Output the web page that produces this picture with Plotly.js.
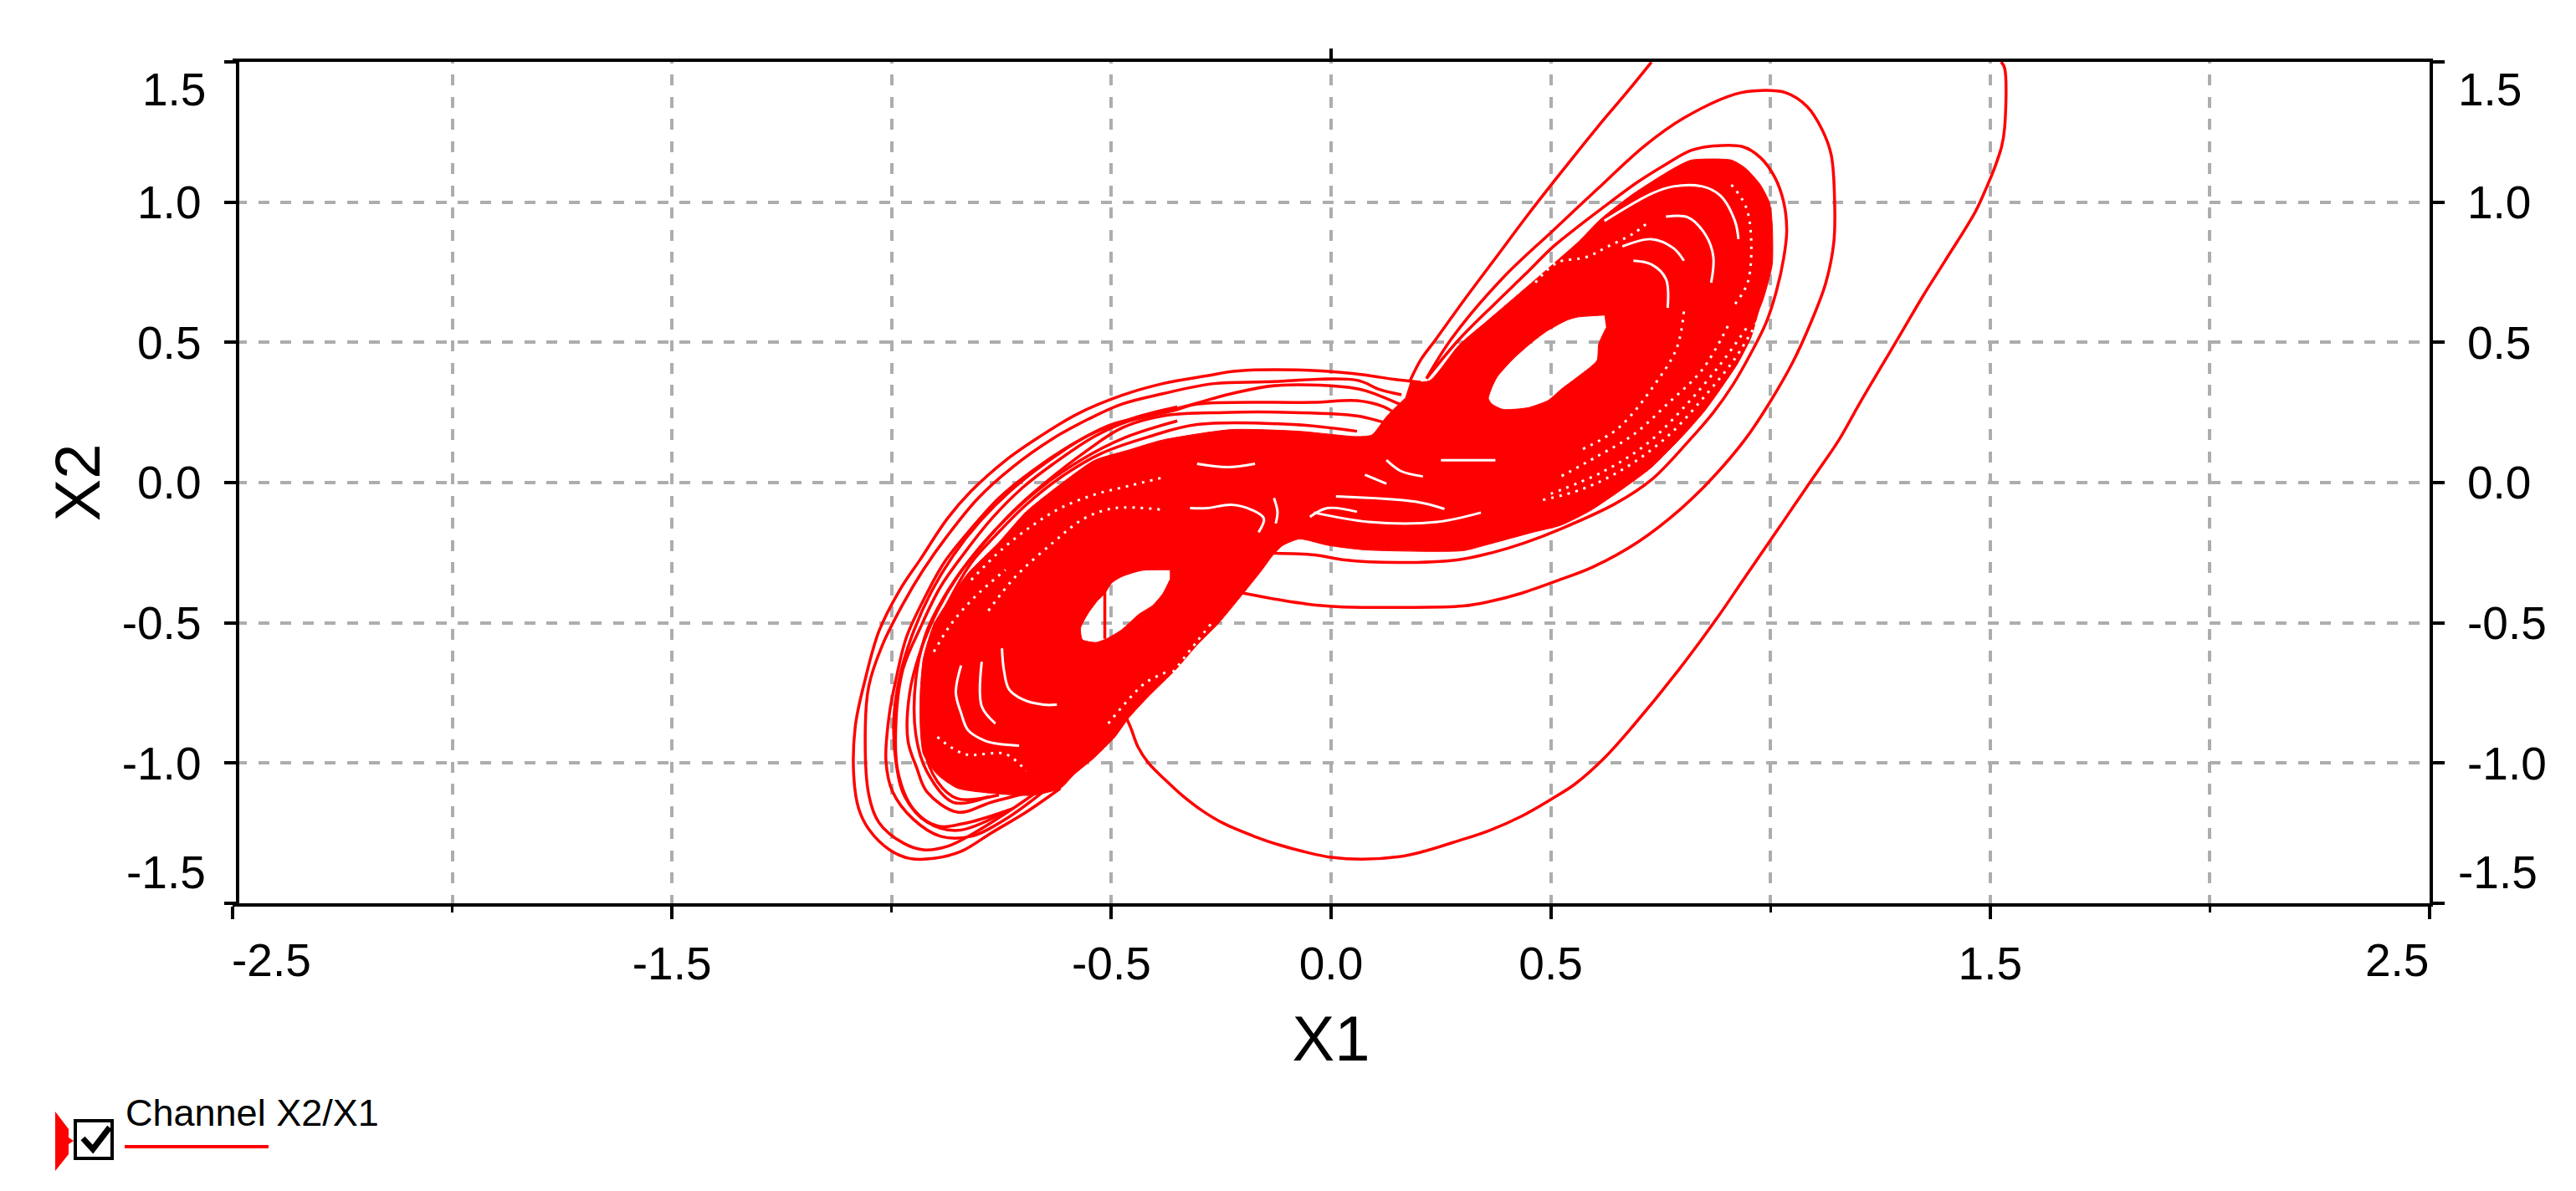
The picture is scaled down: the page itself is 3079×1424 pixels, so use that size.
<!DOCTYPE html>
<html>
<head>
<meta charset="utf-8">
<script src="https://cdn.plot.ly/plotly-3.0.1.min.js"></script>
<style>html,body{margin:0;padding:0;background:#fff}</style>
</head>
<body>
<div id="chart" style="width:3079px;height:1424px"></div>
<script>
// all curves are [x1, x2] pairs
const xMajorTicks = [-2.5, -1.5, -0.5, 0, 0.5, 1.5, 2.5];
const xMajorText = ["", "-1.5", "-0.5", "0.0", "0.5", "1.5", ""];
const xMinorTicks = [-2, -1, 1, 2];
const yTicks = [-1.5, -1, -0.5, 0, 0.5, 1, 1.5];
const yText = ["", "-1.0", "-0.5", "0.0", "0.5", "1.0", ""];
const legendName = "Channel X2/X1";

const entryCurve = [[1.525,1.5],[1.533,1.477],[1.533,1.267],[1.526,1.198],[1.509,1.118],[1.491,1.05],[1.466,.965],[1.397,.79],[1.347,.665],[1.3,.54],[1.249,.405],[1.202,.28],[1.155,.15],[1.108,.042],[1.072,-.04],[1.029,-.139],[1.0,-.205],[.936,-.351],[.882,-.475],[.79,-.67],[.686,-.87],[.62,-.985],[.555,-1.075],[.503,-1.127],[.434,-1.189],[.361,-1.24],[.288,-1.278],[.204,-1.318],[.155,-1.334],[.07,-1.343],[0,-1.336],[-.051,-1.32],[-.124,-1.289],[-.172,-1.263],[-.245,-1.215],[-.293,-1.17],[-.342,-1.111],[-.378,-1.059],[-.415,-1.001],[-.439,-.944],[-.457,-.87],[-.475,-.81]];
const exitCurve = [[.18,.364],[.205,.44],[.238,.51],[.308,.662],[.374,.8],[.448,.955],[.523,1.105],[.605,1.265],[.675,1.395],[.729,1.499]];
const bigLoop = [[.217,.371],[.275,.515],[.391,.73],[.506,.9],[.605,1.045],[.713,1.2],[.803,1.3],[.919,1.385],[.977,1.398],[1.035,1.39],[1.084,1.34],[1.117,1.26],[1.138,1.17],[1.146,1.0],[1.144,.855],[1.126,.713],[1.092,.571],[1.051,.43],[1.0,.29],[.945,.16],[.87,.02],[.795,-.095],[.7,-.21],[.597,-.3],[.523,-.345],[.432,-.395],[.358,-.425],[.3,-.44],[.16,-.445],[.019,-.443],[-.055,-.433],[-.111,-.42],[-.204,-.393]];
const innerLoop = [[.217,.371],[.291,.51],[.374,.64],[.44,.74],[.506,.842],[.564,.915],[.614,.975],[.696,1.07],[.762,1.135],[.82,1.185],[.87,1.2],[.936,1.198],[.977,1.159],[1.01,1.088],[1.03,1.0],[1.037,.9],[1.03,.8],[1.013,.68],[.99,.57],[.955,.46],[.915,.35],[.87,.25],[.812,.145],[.729,.01],[.647,-.075],[.523,-.165],[.44,-.215],[.366,-.25],[.29,-.275],[.15,-.285],[.027,-.275],[-.037,-.258],[-.13,-.252]];

const ringOne = [[.204,.358],[.143,.368],[.076,.384],[-.021,.398],[-.212,.398],[-.282,.381],[-.383,.353],[-.476,.311],[-.577,.245],[-.663,.164],[-.741,.079],[-.819,-.03],[-.873,-.128],[-.935,-.274],[-.982,-.384],[-1.029,-.53],[-1.06,-.7],[-1.083,-.871],[-1.086,-1.054],[-1.075,-1.163],[-1.052,-1.236],[-1.005,-1.309],[-.959,-1.34],[-.904,-1.34],[-.842,-1.315],[-.772,-1.248],[-.694,-1.175],[-.616,-1.09]];
const ringTwo = [[.16,.313],[.11,.332],[.059,.365],[-.149,.359],[-.266,.353],[-.383,.317],[-.476,.28],[-.554,.225],[-.632,.158],[-.725,.055],[-.803,-.055],[-.873,-.189],[-.928,-.311],[-.974,-.432],[-1.021,-.579],[-1.052,-.725],[-1.06,-.871],[-1.052,-1.114],[-1.029,-1.212],[-.974,-1.285],[-.928,-1.309],[-.873,-1.297],[-.811,-1.248],[-.725,-1.163],[-.647,-1.078]];
const ringThree = [[.17,.27],[.11,.31],[.059,.335],[-.118,.347],[-.227,.317],[-.313,.28],[-.414,.238],[-.5,.207],[-.585,.14],[-.679,.043],[-.756,-.055],[-.819,-.164],[-.881,-.286],[-.928,-.42],[-.967,-.554],[-.99,-.7],[-1.005,-.822],[-1.013,-.993],[-.998,-1.102],[-.951,-1.2],[-.889,-1.261],[-.819,-1.261],[-.741,-1.2],[-.655,-1.102]];
const ringFour = [[.17,.22],[.12,.27],[.059,.292],[-.04,.286],[-.305,.28],[-.36,.256],[-.461,.219],[-.539,.164],[-.632,.067],[-.702,-.018],[-.772,-.128],[-.834,-.25],[-.889,-.372],[-.935,-.518],[-.974,-.664],[-.99,-.847],[-.986,-1.029],[-.951,-1.163],[-.896,-1.224],[-.826,-1.212],[-.725,-1.163]];
const ringFive = [[.16,.2],[.12,.215],[.059,.238],[-.087,.25],[-.243,.25],[-.383,.238],[-.476,.195],[-.554,.116],[-.655,-.006],[-.725,-.104],[-.795,-.225],[-.85,-.335],[-.896,-.457],[-.935,-.603],[-.959,-.749],[-.963,-.92],[-.943,-1.017],[-.92,-1.102],[-.85,-1.175],[-.772,-1.139],[-.679,-1.102]];
const ringSix = [[.059,.183],[-.087,.207],[-.305,.207],[-.414,.164],[-.523,.104],[-.616,.018],[-.694,-.079],[-.764,-.189],[-.819,-.286],[-.865,-.408],[-.912,-.566],[-.928,-.749],[-.928,-.932],[-.896,-1.066],[-.85,-1.127],[-.756,-1.114]];
const ringSeven = [[-.35,.27],[-.45,.23],[-.55,.17],[-.65,.07],[-.73,-.03],[-.8,-.14],[-.86,-.26],[-.91,-.39],[-.95,-.53],[-.98,-.68],[-.995,-.84],[-.99,-1.0],[-.97,-1.12],[-.92,-1.21],[-.85,-1.24],[-.75,-1.18]];
const ringEight = [[-.35,.22],[-.47,.16],[-.57,.08],[-.67,-.03],[-.74,-.13],[-.81,-.25],[-.87,-.38],[-.92,-.53],[-.945,-.7],[-.945,-.9],[-.92,-1.03],[-.86,-1.14],[-.78,-1.12]];
const holeChord = [[-.515,-.39],[-.515,-.557]];

// solid part of the attractor, outline runs clockwise, holes the other way round
const coreOutline = [[.18,.358],[.225,.364],[.291,.49],[.358,.58],[.44,.69],[.506,.78],[.564,.86],[.614,.94],[.688,1.03],[.779,1.12],[.82,1.15],[.911,1.15],[.944,1.12],[.977,1.062],[.998,.997],[1.004,.92],[1.004,.778],[.985,.661],[.973,.61],[.956,.519],[.927,.429],[.894,.351],[.853,.261],[.803,.171],[.729,.054],[.663,-.023],[.589,-.101],[.523,-.152],[.457,-.178],[.349,-.224],[.3,-.243],[.077,-.24],[-.006,-.224],[-.072,-.201],[-.111,-.225],[-.134,-.262],[-.157,-.311],[-.188,-.372],[-.219,-.432],[-.258,-.505],[-.305,-.579],[-.352,-.664],[-.414,-.76],[-.461,-.84],[-.492,-.907],[-.539,-.981],[-.585,-1.041],[-.616,-1.09],[-.68,-1.115],[-.756,-1.11],[-.85,-1.09],[-.896,-1.041],[-.928,-.968],[-.935,-.871],[-.935,-.749],[-.928,-.627],[-.904,-.505],[-.865,-.408],[-.826,-.323],[-.756,-.213],[-.694,-.104],[-.616,-.006],[-.539,.079],[-.461,.116],[-.383,.152],[-.227,.189],[-.072,.183],[.059,.164],[.093,.17],[.126,.235],[.168,.3]];
const rightHole = [[.622,.597],[.56,.59],[.535,.578],[.49,.539],[.457,.5],[.415,.442],[.378,.377],[.366,.339],[.358,.3],[.366,.28],[.391,.261],[.448,.267],[.494,.293],[.523,.332],[.556,.371],[.605,.435],[.609,.494],[.626,.552]];
const leftHole = [[-.367,-.311],[-.43,-.313],[-.476,-.335],[-.5,-.359],[-.515,-.396],[-.531,-.42],[-.554,-.469],[-.57,-.518],[-.566,-.56],[-.535,-.57],[-.511,-.557],[-.476,-.524],[-.437,-.469],[-.406,-.438],[-.383,-.396],[-.367,-.347]];

// white streaks left open between the windings
const gaps = [
  [[-.749,-.591],[-.745,-.664],[-.733,-.737],[-.702,-.773],[-.655,-.792],[-.624,-.792]],
  [[-.795,-.639],[-.795,-.798],[-.764,-.859]],
  [[-.842,-.652],[-.854,-.749],[-.842,-.822],[-.826,-.883],[-.788,-.92],[-.756,-.932],[-.71,-.938]],
  [[-.321,-.091],[-.282,-.091],[-.227,-.079],[-.181,-.097],[-.153,-.128],[-.165,-.177]],
  [[-.13,-.055],[-.122,-.104],[-.126,-.146]],
  [[-.305,.067],[-.235,.055],[-.173,.067]],
  [[-.048,-.122],[-.009,-.091],[.059,-.104]],
  [[.622,.933],[.729,1.03],[.779,1.056],[.845,1.056],[.886,1.023],[.919,.933],[.927,.868]],
  [[.762,.948],[.812,.946],[.853,.881],[.87,.804],[.865,.713]],
  [[.663,.842],[.729,.868],[.779,.836],[.803,.791]],
  [[.688,.791],[.729,.778],[.762,.726],[.766,.623]],
  [[.25,.08],[.374,.08]],
  [[.126,.08],[.159,.041],[.209,.022]],
  [[.077,.028],[.126,-.004]],
  [[-.039,-.107],[.085,-.14],[.242,-.14],[.341,-.107]],
  [[.011,-.049],[.192,-.068],[.258,-.094]]
];
const speckles = [
  [[.969,.571],[.919,.442],[.853,.313],[.77,.171],[.671,.054],[.572,-.023],[.481,-.062]],
  [[.945,.55],[.885,.42],[.81,.28],[.72,.14],[.62,.04],[.5,-.04]],
  [[.903,.558],[.845,.403],[.77,.287],[.688,.171],[.605,.093],[.523,.022]],
  [[.803,.61],[.787,.481],[.737,.351],[.655,.196],[.572,.119]],
  [[.911,1.062],[.944,.984],[.956,.868],[.948,.713],[.919,.636]],
  [[.465,.713],[.514,.784],[.581,.804],[.63,.842],[.688,.888],[.725,.933]],
  [[-.819,-.347],[-.749,-.238],[-.679,-.152],[-.616,-.091],[-.539,-.043],[-.461,-.012],[-.383,.018]],
  [[-.78,-.457],[-.718,-.335],[-.632,-.213],[-.562,-.128],[-.492,-.091],[-.383,-.097]],
  [[-.904,-.603],[-.865,-.505],[-.811,-.408],[-.741,-.311]],
  [[-.896,-.907],[-.834,-.968],[-.741,-.968],[-.694,-1.029]],
  [[-.507,-.859],[-.468,-.786],[-.422,-.713],[-.375,-.676]],
  [[-.36,-.676],[-.305,-.566],[-.274,-.505]]
];

const RED = "#ff0000";
const tickFont = { family: "Liberation Sans, sans-serif", size: 55, color: "#000" };
const titleFont = { family: "Liberation Sans, sans-serif", size: 76, color: "#000" };

// plot box in page pixels
const box = { left: 278, right: 2904, top: 74, bottom: 1080 };
const W = 3079, H = 1424;
const paperX = px => (px - box.left) / (box.right - box.left);
const paperY = py => (box.bottom - py) / (box.bottom - box.top);
const pathOf = pts => pts.map((p, i) => (i ? "L" : "M") + paperX(p[0]) + " " + paperY(p[1])).join(" ");

const xs = pts => pts.map(p => p[0]);
const ys = pts => pts.map(p => p[1]);

function curve(pts, color, width, dash) {
  return {
    type: "scatter", mode: "lines", x: xs(pts), y: ys(pts), hoverinfo: "skip",
    line: { color: color, width: width, shape: "spline", smoothing: 1, dash: dash || "solid" }
  };
}

function coreTrace() {
  const parts = [coreOutline, rightHole, leftHole];
  const x = [], y = [];
  parts.forEach((p, i) => {
    if (i) { x.push(null); y.push(null); }
    x.push(...xs(p)); y.push(...ys(p));
  });
  return {
    type: "scatter", mode: "lines", x: x, y: y, fill: "toself", fillcolor: RED,
    line: { color: RED, width: 1, shape: "spline", smoothing: 0.6 }, hoverinfo: "skip"
  };
}

const data = [coreTrace()];
[entryCurve, exitCurve, bigLoop, innerLoop, ringOne, ringTwo, ringThree, ringFour, ringFive, ringSix, ringSeven, ringEight, holeChord]
  .forEach(c => data.push(curve(c, RED, 3.5)));
gaps.forEach(g => data.push(curve(g, "#ffffff", 3)));
speckles.forEach(s => data.push(curve(s, "#ffffff", 3, "3px,7px")));
// empty traces so the top and right axes get drawn
data.push({ type: "scatter", x: [], y: [], xaxis: "x2", yaxis: "y", hoverinfo: "skip" });
data.push({ type: "scatter", x: [], y: [], xaxis: "x", yaxis: "y2", hoverinfo: "skip" });

function label(text, o) {
  return Object.assign({ text: text, showarrow: false, font: tickFont, borderpad: 0, borderwidth: 0 }, o);
}

const annotations = [
  label("-2.5", { xref: "x", yref: "paper", x: -2.5, y: 0, yanchor: "middle", yshift: -68, xshift: 46 }),
  label("2.5", { xref: "x", yref: "paper", x: 2.5, y: 0, yanchor: "middle", yshift: -68, xshift: -39 }),
  label("1.5", { xref: "paper", yref: "y", x: paperX(246), y: 1.5, xanchor: "right", yanchor: "middle", yshift: -33 }),
  label("-1.5", { xref: "paper", yref: "y", x: paperX(246), y: -1.5, xanchor: "right", yanchor: "middle", yshift: 37 }),
  label("1.5", { xref: "paper", yref: "y", x: paperX(2938), y: 1.5, xanchor: "left", yanchor: "middle", yshift: -33 }),
  label("-1.5", { xref: "paper", yref: "y", x: paperX(2938), y: -1.5, xanchor: "left", yanchor: "middle", yshift: 37 }),
  label(legendName, {
    xref: "paper", yref: "paper", x: paperX(150), y: paperY(1330), xanchor: "left", yanchor: "middle",
    font: { family: "Liberation Sans, sans-serif", size: 45, color: "#000" }
  })
];

const shapes = [
  { type: "path", xref: "paper", yref: "paper", path: pathOf([[66,1329],[82,1350],[82,1360],[88,1364],[82,1368],[82,1380],[66,1400]]) + " Z", fillcolor: RED, line: { width: 0 } },
  { type: "rect", xref: "paper", yref: "paper", x0: paperX(90), x1: paperX(134), y0: paperY(1340), y1: paperY(1385), fillcolor: "#fff", line: { color: "#000", width: 4 } },
  { type: "path", xref: "paper", yref: "paper", path: pathOf([[99,1361],[111,1374],[131,1348]]), line: { color: "#000", width: 7 } },
  { type: "line", xref: "paper", yref: "paper", x0: paperX(149), x1: paperX(321), y0: paperY(1371), y1: paperY(1371), line: { color: RED, width: 4 } }
];

const layout = {
  width: W, height: H, showlegend: false,
  paper_bgcolor: "#fff", plot_bgcolor: "#fff",
  margin: { l: box.left, r: W - box.right, t: box.top, b: H - box.bottom, pad: 0 },
  xaxis: {
    range: [-2.5, 2.5], tickmode: "array", tickvals: xMajorTicks, ticktext: xMajorText,
    ticks: "outside", ticklen: 15, tickwidth: 4, tickcolor: "#000", tickfont: tickFont,
    ticklabelstandoff: 6,
    showline: true, linecolor: "#000", linewidth: 4, mirror: true, zeroline: false,
    showgrid: true, gridcolor: "#adadad", gridwidth: 4, griddash: "1.5px,13.5px,11.5px,0px",
    minor: {
      tickmode: "array", tickvals: xMinorTicks, ticks: "outside", ticklen: 7, tickwidth: 3, tickcolor: "#000",
      showgrid: true, gridcolor: "#adadad", gridwidth: 4, griddash: "1.5px,13.5px,11.5px,0px"
    },
    title: { text: "X1", font: titleFont, standoff: 34 }
  },
  xaxis2: {
    overlaying: "x", side: "top", anchor: "y", range: [-2.5, 2.5], tickmode: "array", tickvals: [0], ticktext: [""],
    ticks: "outside", ticklen: 15, tickwidth: 4, tickcolor: "#000", showgrid: false, zeroline: false, showline: false
  },
  yaxis: {
    range: [-1.5, 1.5], anchor: "free", position: paperX(283.5),
    tickmode: "array", tickvals: yTicks, ticktext: yText,
    ticks: "outside", ticklen: 14, tickwidth: 4, tickcolor: "#000", tickfont: tickFont,
    ticklabelstandoff: 16,
    showline: true, linecolor: "#000", linewidth: 4, zeroline: false,
    showgrid: true, gridcolor: "#adadad", gridwidth: 4, griddash: "0px,4px,13px,9.5px",
    title: { text: "X2", font: titleFont, standoff: 0 }
  },
  yaxis2: {
    overlaying: "y", side: "right", anchor: "x", range: [-1.5, 1.5],
    tickmode: "array", tickvals: yTicks, ticktext: yText,
    ticks: "outside", ticklen: 14, tickwidth: 4, tickcolor: "#000", tickfont: tickFont,
    ticklabelstandoff: 16,
    showline: true, linecolor: "#000", linewidth: 4, zeroline: false, showgrid: false
  },
  annotations: annotations,
  shapes: shapes
};

Plotly.newPlot("chart", data, layout, { displayModeBar: false, staticPlot: true });
</script>
</body>
</html>
